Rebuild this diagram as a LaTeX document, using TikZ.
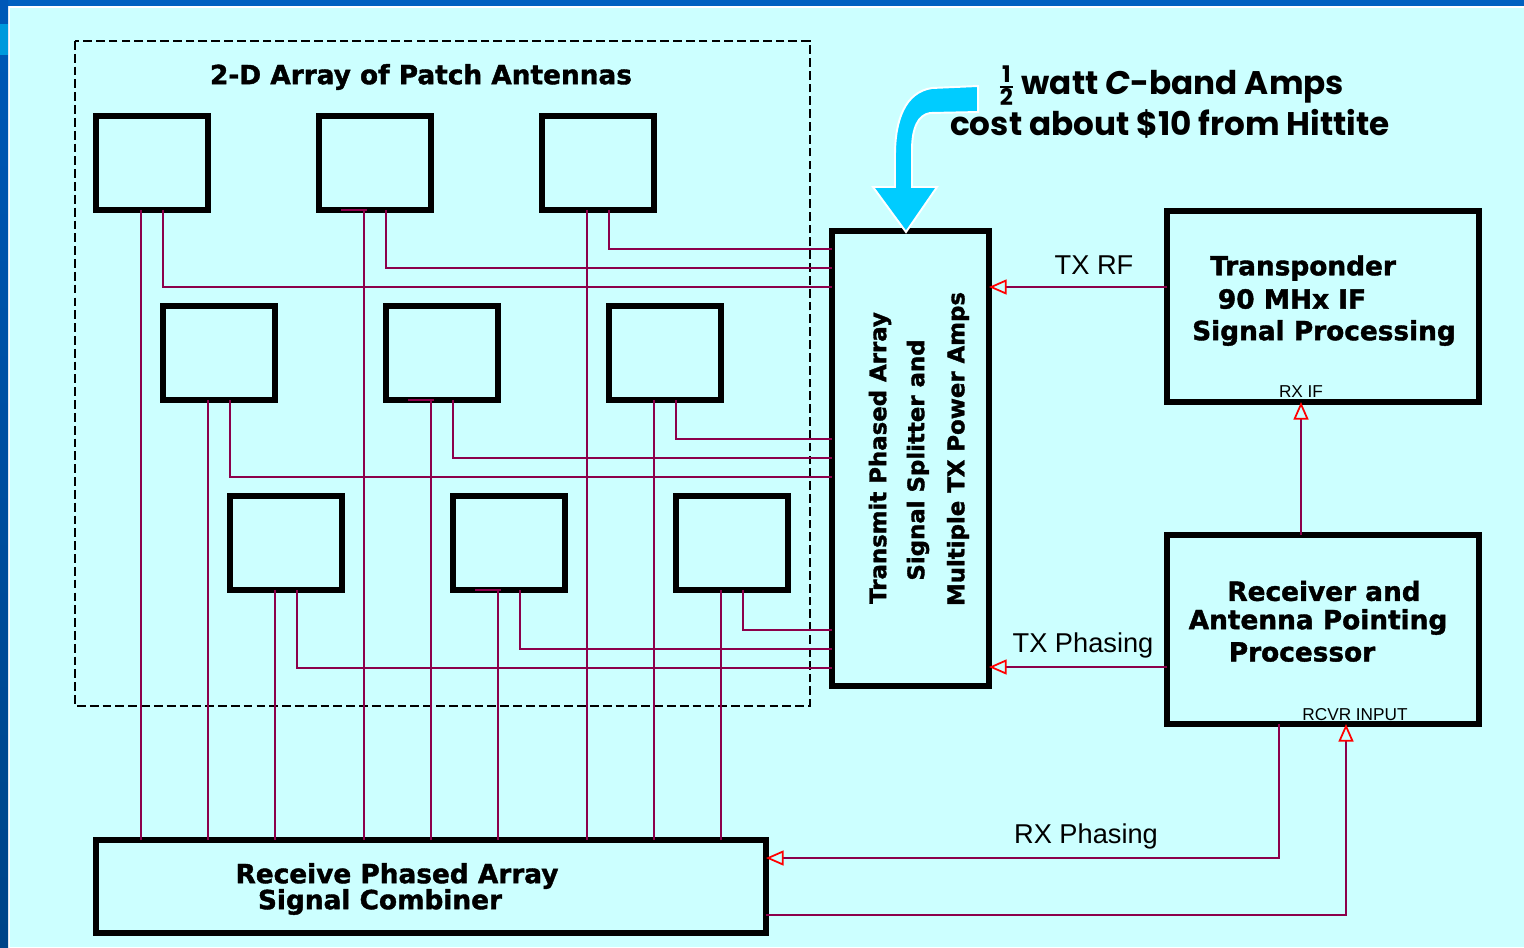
\documentclass[tikz,border=0pt]{standalone}
\usepackage{amsmath}
\usepackage{fontspec}
\setmainfont{Liberation Sans}
\newfontfamily\dv{DejaVu Sans}[BoldFeatures={FakeBold=1.5}]
\newfontfamily\comic{Poppins}
\usetikzlibrary{arrows.meta}
\definecolor{bgcyan}{HTML}{CCFFFF}
\definecolor{topblue}{HTML}{0060C0}
\definecolor{leftblueA}{HTML}{0058B8}
\definecolor{leftblueB}{HTML}{004488}
\definecolor{lightblue}{HTML}{0099DD}
\definecolor{wirecol}{RGB}{140,0,75}
\definecolor{arrowcyan}{HTML}{00CCFF}
\begin{document}
\begin{tikzpicture}[x=0.02cm,y=-0.02cm,
  blk/.style={draw=black, line width=3.4pt, fill=none, inner sep=0pt, outer sep=0pt},
  ant/.style={blk, minimum width=2.24cm, minimum height=1.88cm},
  wire/.style={draw=wirecol, line width=1.1pt},
  sig/.style={wire, -{Triangle[open,length=10pt,width=8.5pt,red,line width=1pt]}},
  bt/.style={font=\dv\bfseries\fontsize{15}{18}\selectfont, inner sep=0pt},
  rott/.style={font=\dv\bfseries\fontsize{13}{16}\selectfont, inner sep=0pt, rotate=90},
  lbl/.style={font=\fontsize{15.5}{18}\selectfont, inner sep=0pt},
  smlbl/.style={font=\fontsize{9.8}{11}\selectfont, inner sep=0pt},
  callout/.style={font=\comic\bfseries\fontsize{18.6}{22}\selectfont, inner sep=0pt}
]
% background
\fill[bgcyan] (0,0) rectangle (1524,947);
\useasboundingbox (0,0) rectangle (1524,947);
\fill[white] (0,0) rectangle (1524,8);
\fill[white] (0,0) rectangle (10,947);
\fill[topblue] (0,0) rectangle (1524,6);
\shade[top color=leftblueA, bottom color=leftblueB] (0,0) rectangle (8,947);
\fill[lightblue] (0,24) rectangle (8,55);

% dashed array frame
\draw[black, line width=0.8pt, dash pattern=on 5pt off 2.3pt] (75,41) rectangle (810,706);
\node[bt] (title) at (421,77) {2-D Array of Patch Antennas};

% antennas
\node[ant] (a11) at (152,163) {};
\node[ant] (a12) at (375,163) {};
\node[ant] (a13) at (598,163) {};
\node[ant] (a21) at (219,353) {};
\node[ant] (a22) at (442,353) {};
\node[ant] (a23) at (665,353) {};
\node[ant] (a31) at (286,543) {};
\node[ant] (a32) at (509,543) {};
\node[ant] (a33) at (732,543) {};

% main blocks
\node[blk, minimum width=3.14cm, minimum height=9.1cm] (tx) at (910.5,458.5) {};
\node[blk, minimum width=6.24cm, minimum height=3.82cm] (tp) at (1323,306.5) {};
\node[blk, minimum width=6.24cm, minimum height=3.78cm] (rp) at (1323,629.5) {};
\node[blk, minimum width=13.4cm, minimum height=1.86cm] (cb) at (431,886.5) {};

% texts in blocks
\node[rott] (t1) at (880,458) {Transmit Phased Array};
\node[rott] (t2) at (918,460) {Signal Splitter and};
\node[rott] (t3) at (958,449) {Multiple TX Power Amps};
\node[bt] (p1) at (1303,268) {Transponder};
\node[bt] (p2) at (1292,299) {90 MHx IF};
\node[bt] (p3) at (1324,333) {Signal Processing};
\node[bt] (r1) at (1324,591) {Receiver and};
\node[bt] (r2) at (1318,622) {Antenna Pointing};
\node[bt] (r3) at (1302,652) {Processor};
\node[bt] (c1) at (397,876) {Receive Phased Array};
\node[bt] (c2) at (380,902) {Signal Combiner};

% feed wires
\foreach \n/\h in {a11/287, a12/268, a13/249, a21/477, a22/458, a23/439, a31/668, a32/649, a33/630}{
  \coordinate (hh) at (0,\h);
  \draw[wire] (\n.south west) ++(67,0) |- (tx.west |- hh);
  \draw[wire] (\n.south west) ++(45,0) coordinate (dd) -- (dd |- cb.north);
}
\foreach \n in {a12,a22,a32}{
  \draw[wire] (\n.south west) ++(22,0) -- ++(26,0);
}

% signal connectors
\coordinate (yTXRF) at (0,287);
\coordinate (yTXPH) at (0,667);
\coordinate (yRXPH) at (0,858);
\coordinate (yRCVR) at (0,915);
\coordinate (xRXIF) at (1301,0);
\coordinate (xRXPH) at (1279,0);
\coordinate (xRCVR) at (1346,0);
\draw[sig] (tp.west |- yTXRF) -- (tx.east |- yTXRF);
\draw[sig] (rp.north -| xRXIF) -- (tp.south -| xRXIF);
\draw[sig] (rp.west |- yTXPH) -- (tx.east |- yTXPH);
\draw[sig] (rp.south -| xRXPH) |- (cb.east |- yRXPH);
\draw[sig] (cb.east |- yRCVR) -| (rp.south -| xRCVR);

\node[lbl] (lTXRF) at (1094,265) {TX RF};
\node[lbl] (lTXPH) at (1083,645) {TX Phasing};
\node[lbl] (lRXPH) at (1086,836) {RX Phasing};
\node[smlbl] (lRXIF) at (1301,392) {RX IF};
\node[smlbl] (lRCVR) at (1355,715) {RCVR INPUT};

% blue callout arrow
\filldraw[fill=arrowcyan, draw=white, line width=1.1pt]
  (978,86) -- (932,88) .. controls (905,92) and (895,120) .. (895,155) -- (895,187)
  -- (873,187) -- (906,232) -- (937,187) -- (912,187) -- (912,150)
  .. controls (912,128) and (918,115) .. (930,113) -- (978,112) -- cycle;

% callout text
\node[callout] (n1) at (1171,86) {$\tfrac{\textbf{1}}{\textbf{2}}$\hspace{0.2em}watt \textit{C}-band Amps};
\node[callout] (n2) at (1170,124) {cost about \$10 from Hittite};
\end{tikzpicture}
\end{document}
